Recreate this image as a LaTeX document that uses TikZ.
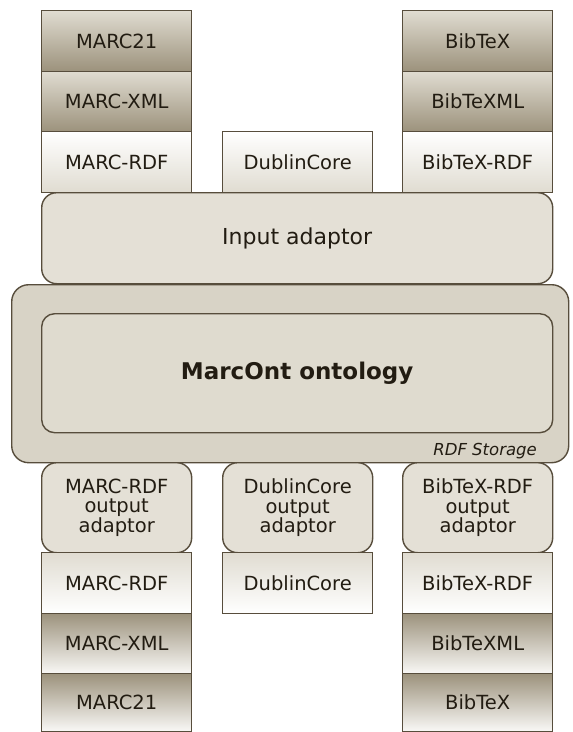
\documentclass[tikz,border=0pt]{standalone}
\usepackage{fontspec}
\setmainfont{DejaVu Sans}
\definecolor{edge}{HTML}{574D3C}
\definecolor{txt}{HTML}{221C12}
\definecolor{dkA}{HTML}{E0DCD1}
\definecolor{dkB}{HTML}{9C927C}
\definecolor{ltA}{HTML}{FFFFFF}
\definecolor{ltB}{HTML}{E0DCD1}
\definecolor{adfill}{HTML}{E4E0D6}
\definecolor{stfill}{HTML}{D8D3C6}
\definecolor{onfill}{HTML}{DFDBCF}
\begin{document}
\begin{tikzpicture}[x=1pt,y=1pt,
  fmt/.style={draw=edge, line width=1.4pt, inner sep=0pt, anchor=north west, text=txt,
    font=\fontsize{19.5}{19.5}\selectfont, align=center},
  cell/.style={fmt, minimum width=150pt, minimum height=60.5pt},
  darkdown/.style={cell, top color=dkA, bottom color=dkB},
  darkup/.style={cell, top color=dkB, bottom color=ltA!80!dkA},
  lightdown/.style={cell, top color=ltA, bottom color=ltB},
  lightup/.style={cell, top color=ltB, bottom color=ltA},
  outad/.style={fmt, fill=adfill, rounded corners=15pt, minimum width=150pt, minimum height=90pt}
]
\useasboundingbox (0,0) rectangle (573,-732);
% top inputs
\node[darkdown] (l1) at (41,-10) {MARC21};
\node[darkdown] (l2) at (41,-70.5) {MARC-XML};
\node[lightdown] (l3) at (41,-131) {MARC-RDF};
\node[lightdown] (m3) at (222,-131) {DublinCore};
\node[darkdown] (r1) at (402,-10) {BibTeX};
\node[darkdown] (r2) at (402,-70.5) {BibTeXML};
\node[lightdown] (r3) at (402,-131) {BibTeX-RDF};
% input adaptor
\node[fmt, fill=adfill, rounded corners=15pt, minimum width=511pt, minimum height=91pt,
  font=\fontsize{22}{22}\selectfont] (inad) at (41,-192) {Input adaptor};
% storage
\node[fmt, fill=stfill, rounded corners=17pt, minimum width=557pt, minimum height=178pt] (store) at (11,-284) {};
\node[fmt, fill=onfill, rounded corners=13pt, minimum width=511pt, minimum height=119pt,
  font=\fontsize{23}{23}\selectfont\bfseries] (onto) at (41,-313) {MarcOnt ontology};
\node[anchor=base east, inner sep=0pt, text=txt, font=\fontsize{16.5}{16.5}\selectfont\itshape]
  (stlab) at (537,-455) {RDF Storage};
% output adaptors
\node[outad] (lo) at (41,-462) {MARC-RDF\\output\\adaptor};
\node[outad] (mo) at (222,-462) {DublinCore\\output\\adaptor};
\node[outad] (ro) at (402,-462) {BibTeX-RDF\\output\\adaptor};
% outputs
\node[lightup] (lb3) at (41,-552) {MARC-RDF};
\node[darkup] (lb2) at (41,-612.5) {MARC-XML};
\node[darkup, minimum height=57.5pt] (lb1) at (41,-673) {MARC21};
\node[lightup] (mb3) at (222,-552) {DublinCore};
\node[lightup] (rb3) at (402,-552) {BibTeX-RDF};
\node[darkup] (rb2) at (402,-612.5) {BibTeXML};
\node[darkup, minimum height=57.5pt] (rb1) at (402,-673) {BibTeX};
\end{tikzpicture}
\end{document}
